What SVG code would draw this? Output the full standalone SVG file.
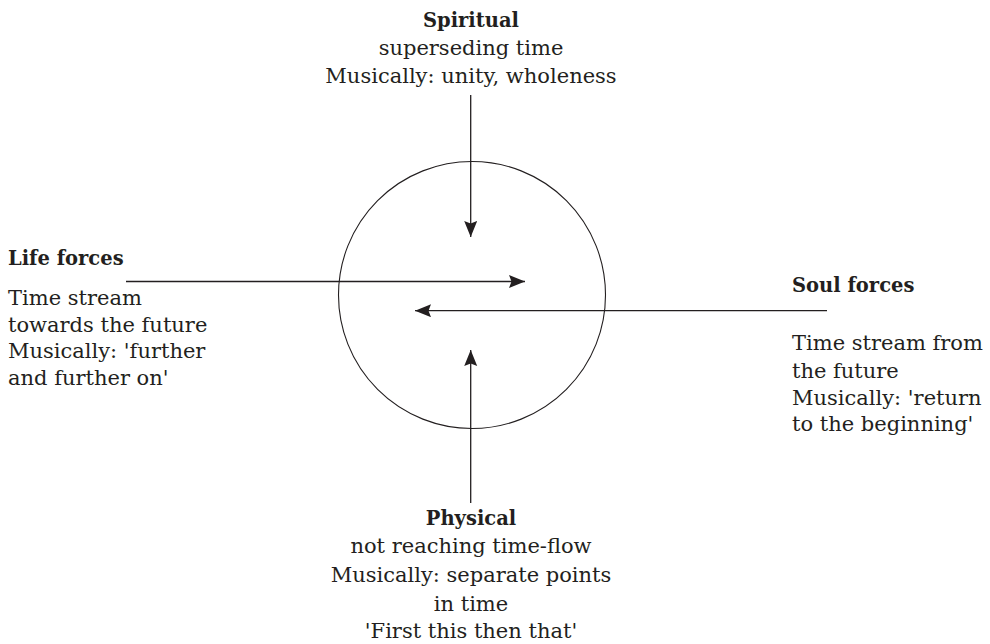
<svg xmlns="http://www.w3.org/2000/svg" width="990" height="644" viewBox="0 0 990 644">
<style>
text{font-family:"DejaVu Serif","Liberation Serif",serif;font-size:21px;fill:#231f20}
.b{font-weight:bold;font-size:19.5px}
.c{text-anchor:middle}
.ln{stroke:#231f20;stroke-width:1.3;fill:none}
</style>
<defs>
<marker id="ah" markerUnits="userSpaceOnUse" markerWidth="17" markerHeight="14" refX="16" refY="6.5" orient="auto">
<path d="M0,0 L16,6.5 L0,13 L2.5,6.5 z" fill="#231f20"/>
</marker>
</defs>
<rect width="990" height="644" fill="#fff"/>
<g id="circle"><circle cx="472" cy="295" r="133.5" fill="none" stroke="#231f20" stroke-width="1.1"/></g>
<g id="connectors">
<line class="ln" x1="470.7" y1="95" x2="470.7" y2="237" marker-end="url(#ah)"/>
<line class="ln" x1="126" y1="281.5" x2="525" y2="281.5" marker-end="url(#ah)"/>
<line class="ln" x1="827" y1="310.7" x2="415" y2="310.7" marker-end="url(#ah)"/>
<line class="ln" x1="470.7" y1="503" x2="470.7" y2="350" marker-end="url(#ah)"/>
</g>
<g id="spiritual">
<text class="b c" x="471" y="27">Spiritual</text>
<text class="c" x="471" y="55">superseding time</text>
<text class="c" x="471" y="83">Musically: unity, wholeness</text>
</g>
<g id="life">
<text class="b" x="8" y="265">Life forces</text>
<text x="8" y="305">Time stream</text>
<text x="8" y="332">towards the future</text>
<text x="8" y="358">Musically: 'further</text>
<text x="8" y="385">and further on'</text>
</g>
<g id="soul">
<text class="b" x="792" y="292">Soul forces</text>
<text x="792" y="350">Time stream from</text>
<text x="792" y="378">the future</text>
<text x="792" y="405">Musically: 'return</text>
<text x="792" y="431">to the beginning'</text>
</g>
<g id="physical">
<text class="b c" x="471" y="525">Physical</text>
<text class="c" x="471" y="553">not reaching time-flow</text>
<text class="c" x="471" y="582">Musically: separate points</text>
<text class="c" x="471" y="611">in time</text>
<text class="c" x="471" y="638">'First this then that'</text>
</g>
</svg>
